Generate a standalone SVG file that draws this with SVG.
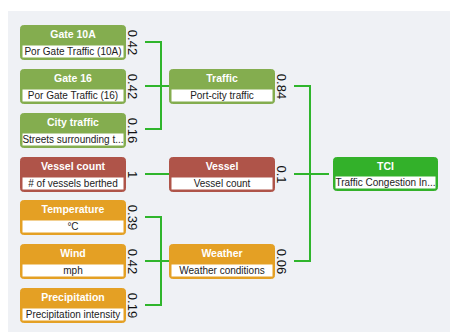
<svg xmlns="http://www.w3.org/2000/svg" width="450" height="332" viewBox="0 0 450 332">
<style>
.bg{fill:#eff1f5}
.box{stroke-width:1}
.g{fill:#84ad4f;stroke:#84ad4f}
.r{fill:#af5449;stroke:#af5449}
.o{fill:#e4a024;stroke:#e4a024}
.t{fill:#33b12a;stroke:#33b12a}
.band{fill:#ffffff}
.title{font-family:"Liberation Sans",Arial,sans-serif;font-size:10.5px;font-weight:bold;fill:#ffffff;text-anchor:middle}
.sub{font-family:"Liberation Sans",Arial,sans-serif;font-size:10px;fill:#222222;text-anchor:middle}
.w{font-family:"Liberation Sans",Arial,sans-serif;font-size:13px;fill:#111111;text-anchor:middle}
.c{fill:none;stroke:#2fb52c;stroke-width:2}
</style>
<rect class="bg" x="8" y="11" width="442" height="321"/>
<g id="connectors">
<path class="c" d="M145,42 H161 V129 H145 M145,86 H169"/>
<path class="c" d="M145,174 H169"/>
<path class="c" d="M145,217 H161 V305 H145 M145,261 H169"/>
<path class="c" d="M294,86 H310 V261 H294 M294,174 H329"/>
</g>
<g id="gate10a">
<rect class="box g" x="20.5" y="25.5" width="105" height="34" rx="3"/>
<rect class="band" x="22.5" y="45.5" width="101" height="12"/>
<text class="title" x="73" y="38">Gate 10A</text>
<text class="sub" x="73" y="55">Por Gate Traffic (10A)</text>
<text class="w" transform="translate(128,42.5) rotate(90)">0.42</text>
</g>
<g id="gate16">
<rect class="box g" x="20.5" y="69.5" width="105" height="34" rx="3"/>
<rect class="band" x="22.5" y="89.5" width="101" height="12"/>
<text class="title" x="73" y="82">Gate 16</text>
<text class="sub" x="73" y="99">Por Gate Traffic (16)</text>
<text class="w" transform="translate(128,86.5) rotate(90)">0.42</text>
</g>
<g id="citytraffic">
<rect class="box g" x="20.5" y="113.5" width="105" height="34" rx="3"/>
<rect class="band" x="22.5" y="133.5" width="101" height="12"/>
<text class="title" x="73" y="126">City traffic</text>
<text class="sub" x="73" y="143">Streets surrounding t...</text>
<text class="w" transform="translate(128,130.5) rotate(90)">0.16</text>
</g>
<g id="vesselcount">
<rect class="box r" x="20.5" y="157.5" width="105" height="34" rx="3"/>
<rect class="band" x="22.5" y="177.5" width="101" height="12"/>
<text class="title" x="73" y="170">Vessel count</text>
<text class="sub" x="73" y="187"># of vessels berthed</text>
<text class="w" transform="translate(128,174.5) rotate(90)">1</text>
</g>
<g id="temperature">
<rect class="box o" x="20.5" y="200.5" width="105" height="34" rx="3"/>
<rect class="band" x="22.5" y="220.5" width="101" height="12"/>
<text class="title" x="73" y="213">Temperature</text>
<text class="sub" x="73" y="230">°C</text>
<text class="w" transform="translate(128,217.5) rotate(90)">0.39</text>
</g>
<g id="wind">
<rect class="box o" x="20.5" y="244.5" width="105" height="34" rx="3"/>
<rect class="band" x="22.5" y="264.5" width="101" height="12"/>
<text class="title" x="73" y="257">Wind</text>
<text class="sub" x="73" y="274">mph</text>
<text class="w" transform="translate(128,261.5) rotate(90)">0.42</text>
</g>
<g id="precipitation">
<rect class="box o" x="20.5" y="288.5" width="105" height="34" rx="3"/>
<rect class="band" x="22.5" y="308.5" width="101" height="12"/>
<text class="title" x="73" y="301">Precipitation</text>
<text class="sub" x="73" y="318">Precipitation intensity</text>
<text class="w" transform="translate(128,305.5) rotate(90)">0.19</text>
</g>
<g id="traffic">
<rect class="box g" x="169.5" y="69.5" width="105" height="34" rx="3"/>
<rect class="band" x="171.5" y="89.5" width="101" height="12"/>
<text class="title" x="222" y="82">Traffic</text>
<text class="sub" x="222" y="99">Port-city traffic</text>
<text class="w" transform="translate(277,86.5) rotate(90)">0.84</text>
</g>
<g id="vessel">
<rect class="box r" x="169.5" y="157.5" width="105" height="34" rx="3"/>
<rect class="band" x="171.5" y="177.5" width="101" height="12"/>
<text class="title" x="222" y="170">Vessel</text>
<text class="sub" x="222" y="187">Vessel count</text>
<text class="w" transform="translate(277,174.5) rotate(90)">0.1</text>
</g>
<g id="weather">
<rect class="box o" x="169.5" y="244.5" width="105" height="34" rx="3"/>
<rect class="band" x="171.5" y="264.5" width="101" height="12"/>
<text class="title" x="222" y="257">Weather</text>
<text class="sub" x="222" y="274">Weather conditions</text>
<text class="w" transform="translate(277,261.5) rotate(90)">0.06</text>
</g>
<g id="tci">
<rect class="box t" x="333.5" y="157.5" width="104" height="33" rx="3"/>
<rect class="band" x="335.5" y="176.5" width="100" height="12"/>
<text class="title" x="385.5" y="170">TCI</text>
<text class="sub" x="385.5" y="186">Traffic Congestion In...</text>
</g>
</svg>
